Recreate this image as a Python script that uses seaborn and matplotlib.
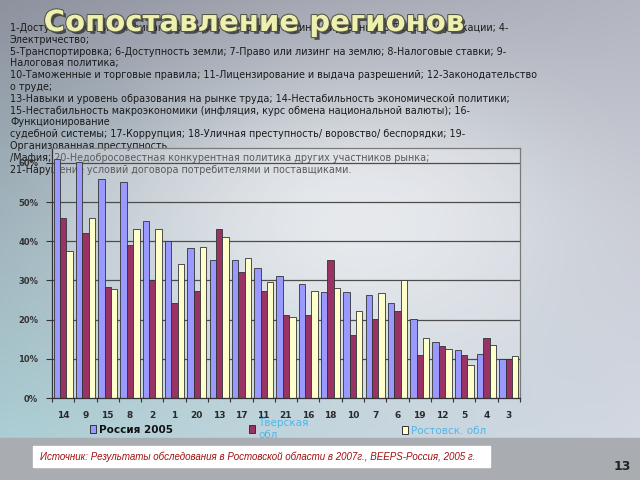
import numpy as np
import pandas as pd
import seaborn as sns
import matplotlib.pyplot as plt
import matplotlib.patheffects as pe
from matplotlib.patches import Rectangle

factors = ['14', '9', '15', '8', '2', '1', '20', '13', '17', '11', '21',
           '16', '18', '10', '7', '6', '19', '12', '5', '4', '3']
russia = [61.1, 60.1, 56.0, 55.1, 45.2, 40.1, 38.2, 35.1, 35.1, 33.2, 31.2,
          29.2, 27.1, 27.1, 26.2, 24.3, 20.2, 14.3, 12.3, 11.3, 10.0]
tver = [46.0, 42.2, 28.2, 39.1, 30.2, 24.3, 27.2, 43.2, 32.2, 27.2, 21.2,
        21.2, 35.1, 16.2, 20.2, 22.2, 11.1, 13.2, 11.1, 15.2, 10.0]
rostov = [37.4, 46.0, 27.9, 43.2, 43.2, 34.1, 38.5, 41.1, 35.7, 29.6, 20.6,
          27.4, 28.1, 22.2, 26.8, 30.2, 15.2, 12.6, 8.5, 13.4, 10.7]
series = ['Россия 2005', 'Тверская\nобл', 'Ростовск. обл']
colors = ['#9999ff', '#993366', '#ffffcc']
yticks = [0, 10, 20, 30, 40, 50, 60]

legend_lines = [
    '1-Доступ к источникам финансирования; 2-Стоимость финансирования; 3-Телекоммуникации; 4-',
    'Электричество;',
    '5-Транспортировка; 6-Доступность земли; 7-Право или лизинг на землю; 8-Налоговые ставки; 9-',
    'Налоговая политика;',
    '10-Таможенные и торговые правила; 11-Лицензирование и выдача разрешений; 12-Законодательство',
    'о труде;',
    '13-Навыки и уровень образования на рынке труда; 14-Нестабильность экономической политики;',
    '15-Нестабильность макроэкономики (инфляция, курс обмена национальной валюты); 16-',
    'Функционирование',
    'судебной системы; 17-Коррупция; 18-Уличная преступность/ воровство/ беспорядки; 19-',
    'Организованная преступность',
    '/Мафия; 20-Недобросовестная конкурентная политика других участников рынка;',
    '21-Нарушение условий договора потребителями и поставщиками.',
]

df = pd.DataFrame({
    'factor': factors * 3,
    'region': [series[0]] * 21 + [series[1]] * 21 + [series[2]] * 21,
    'value': russia + tver + rostov,
})

sns.set_theme(style='white')
plt.rcParams['font.family'] = ['DejaVu Sans']

W, H = 640, 480
fig = plt.figure(figsize=(6.4, 4.8), dpi=100)

# slide background
bg = fig.add_axes([0, 0, 1, 1], zorder=-10)
yy, xx = np.mgrid[0:1:240j, 0:1:320j]
tl = np.array([0.55, 0.57, 0.62])
tr = np.array([0.70, 0.71, 0.75])
bl = np.array([0.68, 0.83, 0.85])
br = np.array([0.84, 0.86, 0.90])
img = ((1 - xx)[..., None] * (1 - yy)[..., None] * tl + xx[..., None] * (1 - yy)[..., None] * tr
       + (1 - xx)[..., None] * yy[..., None] * bl + xx[..., None] * yy[..., None] * br)
glow = np.exp(-(((xx - 0.55) / 0.35) ** 2 + ((yy - 0.45) / 0.3) ** 2))
img = img + (1 - img) * 0.65 * glow[..., None]
bg.imshow(np.clip(img, 0, 1), aspect='auto', extent=[0, 1, 0, 1], origin='upper')
bg.add_patch(Rectangle((0, 0), 1, 42 / H, color='#a9adb2'))
bg.add_patch(Rectangle((33 / W, 13 / H), 457 / W, 21 / H, color='white'))
bg.set_xlim(0, 1)
bg.set_ylim(0, 1)
bg.axis('off')

# factor list
for i, line in enumerate(legend_lines):
    fig.text(10 / W, 1 - (28 + i * 11.8) / H, line, fontsize=6.95, color='#1a1a1a',
             va='center', ha='left', zorder=-5)

ax = fig.add_axes([52 / W, 1 - 398 / H, 468 / W, 250 / H], zorder=0)
ax.set_facecolor((0.93, 0.93, 0.95, 0.3))
sns.barplot(data=df, x='factor', y='value', hue='region', order=factors,
            hue_order=series, palette=colors, saturation=1, width=0.86,
            edgecolor='#333333', linewidth=0.6, errorbar=None, legend=False, ax=ax)
ax.set_xlim(-0.5, len(factors) - 0.5)
ax.set_ylim(0, 63.8)
ax.set_yticks(yticks)
ax.set_yticklabels([f'{v}%' for v in yticks], fontsize=6, fontweight='bold', color='#333333')
ax.yaxis.grid(True, color='#4d4d4d', lw=0.9)
ax.set_axisbelow(True)
ax.set_xlabel('')
ax.set_ylabel('')
ax.tick_params(axis='x', which='major', length=0, pad=9, labelsize=6.5, labelcolor='#2a2a2a')
ax.tick_params(axis='y', length=4, width=0.8, direction='out', color='#333333', pad=6, left=True)
ax.set_xticks(np.arange(-0.5, len(factors), 1), minor=True)
ax.tick_params(axis='x', which='minor', length=3, width=0.8, direction='out', color='#333333', bottom=True)
for lab in ax.get_xticklabels():
    lab.set_fontweight('bold')
for side in ['left', 'bottom']:
    ax.spines[side].set_color('#333333')
    ax.spines[side].set_linewidth(0.9)
for side in ['top', 'right']:
    ax.spines[side].set_color('#7a7a7a')
    ax.spines[side].set_linewidth(0.9)

# legend, spread out below the axis
leg_pos = [(90, 430), (249, 429), (402, 431)]
leg_colors = ['#111111', '#55b5e6', '#55b5e6']
leg_weights = ['bold', 'normal', 'normal']
for name, col, (px, py), tc, fw in zip(series, colors, leg_pos, leg_colors, leg_weights):
    h = Rectangle((0, 0), 1, 1, facecolor=col, edgecolor='#333333', lw=0.7)
    lg = fig.legend([h], [name], loc='center left', bbox_to_anchor=(px / W, 1 - py / H),
                    frameon=False, fontsize=7.5, handlelength=0.6, handleheight=0.8,
                    handletextpad=0.3, borderpad=0, borderaxespad=0)
    for t in lg.get_texts():
        t.set_color(tc)
        t.set_fontweight(fw)

# title
fig.text(254 / W, 1 - 23 / H, 'Сопоставление регионов', fontsize=21, fontweight='bold',
         color='#eef0b0', ha='center', va='center', zorder=6,
         path_effects=[pe.withSimplePatchShadow(offset=(2, -2), shadow_rgbFace='#333333', alpha=0.8),
                       pe.withStroke(linewidth=1.5, foreground='#555544')])

fig.text(40 / W, 1 - 457 / H,
         'Источник: Результаты обследования в Ростовской области в 2007г., BEEPS-Россия, 2005 г.',
         fontsize=7.0, style='italic', family='Liberation Sans', color='#a01010',
         ha='left', va='center')
fig.text(622 / W, 1 - 467 / H, '13', fontsize=9, fontweight='bold', color='#222222',
         ha='center', va='center')

fig.savefig('out.png', dpi=100)
